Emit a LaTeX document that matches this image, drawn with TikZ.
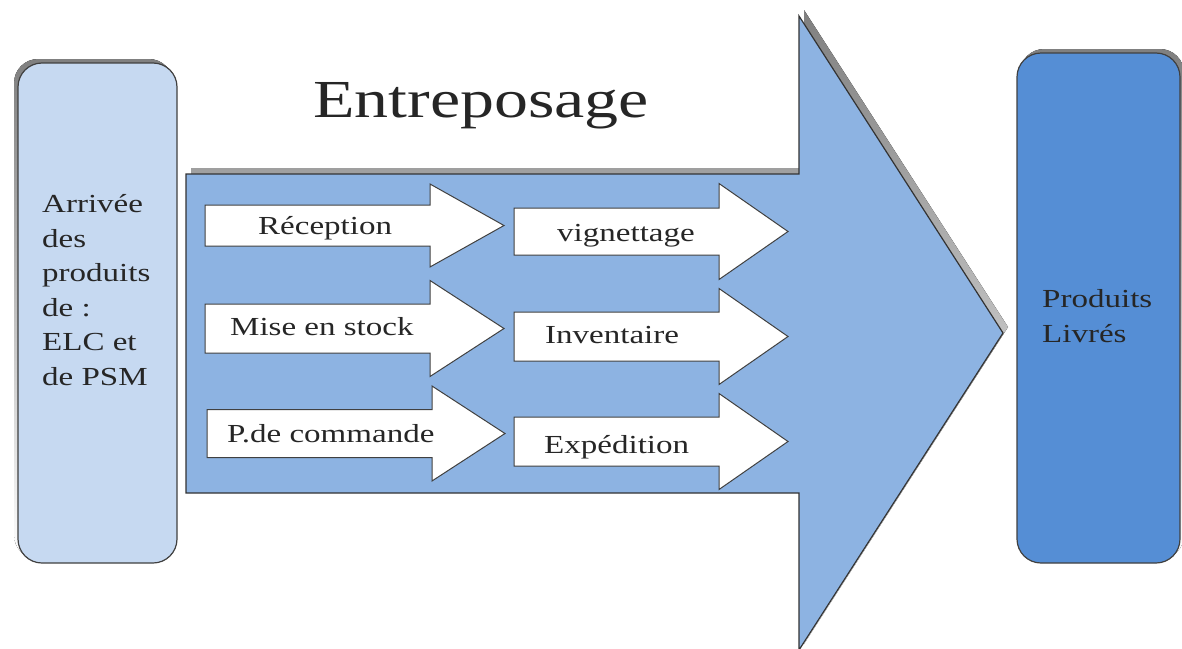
\documentclass[tikz,border=0pt]{standalone}
\usepackage{fontspec}
\setmainfont[FakeStretch=1.27]{Liberation Serif}
\usepackage{xcolor}

\definecolor{paleblue}{HTML}{C6D9F1}
\definecolor{midblue}{HTML}{8DB3E2}
\definecolor{deepblue}{HTML}{558ED5}
\definecolor{shade}{HTML}{C4C4C4}

\begin{document}
\begin{tikzpicture}[x=1pt,y=-1pt,
  box/.style={draw=black!75,line width=1.2pt,rounded corners=24pt},
  stage/.style={draw=black!75,line width=1pt,fill=white},
  label/.style={inner sep=0pt,anchor=base west,text=black!85,font=\fontsize{26}{34.5}\selectfont}]
\useasboundingbox (0,0) rectangle (1182,648);
\clip (0,0) rectangle (1182,648);

% Incoming products
\fill[shade,rounded corners=24pt] (14,59) rectangle (173,559);
\draw[box,fill=paleblue] (18,63) rectangle (177,563);
\node[label,align=left] (arrivee) at (42,385) {Arrivée\\des\\produits\\de :\\ELC et\\de PSM};

% Warehouse arrow
\fill[shade,shift={(5,-6)}] (186,174) -- (799,174) -- (799,16) -- (1003,333) -- (799,650) -- (799,493) -- (186,493) -- cycle;
\draw[draw=black!80,line width=1.2pt,fill=midblue] (186,174) -- (799,174) -- (799,16) -- (1003,333) -- (799,650) -- (799,493) -- (186,493) -- cycle;
\node[label,font=\fontsize{53.5}{60}\selectfont] (title) at (313,117) {Entreposage};

% Steps (left x, head x, tip x, mid y, half body, half head)
\foreach \xa/\xb/\xc/\yc/\b/\h in {205/430/504/225.5/20.5/41.5, 205/430/504/328.5/24.5/48, 207/432/505/433.5/24/47.5,
  514/719/788/231.5/23.5/48, 514/719/788/336.5/24.5/48, 514/719/788/441.5/24.5/48}
  \draw[stage] (\xa,\yc-\b) -- (\xb,\yc-\b) -- (\xb,\yc-\h) -- (\xc,\yc) -- (\xb,\yc+\h) -- (\xb,\yc+\b) -- (\xa,\yc+\b) -- cycle;

\node[label] (reception) at (258,234) {Réception};
\node[label] (stock) at (230,335) {Mise en stock};
\node[label] (commande) at (227,442) {P.de commande};
\node[label] (vignettage) at (557,241) {vignettage};
\node[label] (inventaire) at (545,343) {Inventaire};
\node[label] (expedition) at (544,453) {Expédition};

% Delivered products
\fill[shade,rounded corners=24pt] (1020,49) rectangle (1184,559);
\draw[box,fill=deepblue] (1017,53) rectangle (1180,563);
\node[label,align=left] (livres) at (1042,342) {Produits\\Livrés};
\end{tikzpicture}
\end{document}
